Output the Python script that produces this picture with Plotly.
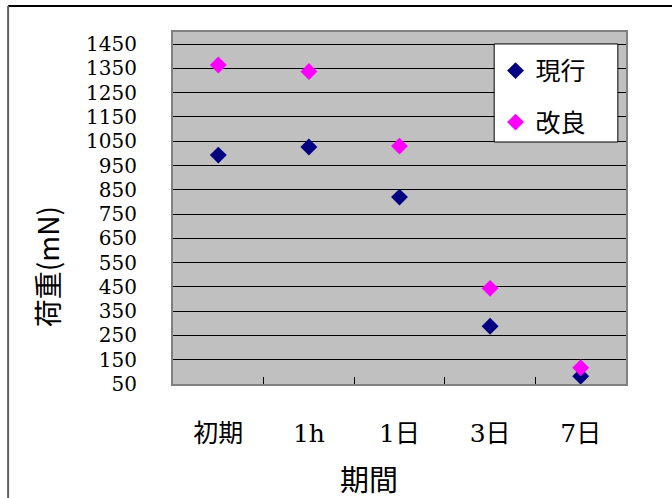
import plotly.graph_objects as go

categories = ["初期", "1h", "1日", "3日", "7日"]
genko = [993, 1026, 820, 288, 82]
kairyo = [1364, 1337, 1030, 444, 117]
yticks = [50, 150, 250, 350, 450, 550, 650, 750, 850, 950, 1050, 1150, 1250, 1350, 1450]

NUMFONT = "DejaVu Serif, Noto Sans CJK JP"
CJK = "Noto Sans CJK JP"

fig = go.Figure()
fig.add_trace(go.Scatter(x=categories, y=genko, mode="markers", name="現行", legendgroup="a",
                         marker=dict(symbol="diamond", size=13, color="#000080")))
fig.add_trace(go.Scatter(x=categories, y=kairyo, mode="markers", name="改良", legendgroup="b",
                         marker=dict(symbol="diamond", size=13, color="#FF00FF")))

fig.update_layout(
    width=672, height=498,
    margin=dict(l=173, r=46, t=32, b=114),
    paper_bgcolor="white", plot_bgcolor="#C0C0C0",
    font=dict(family=NUMFONT, size=20, color="black"),
    showlegend=True,
    legend=dict(x=0.712, y=0.955, xanchor="left", yanchor="top",
                bgcolor="rgba(0,0,0,0)", borderwidth=0,
                font=dict(size=25, family=CJK),
                traceorder="grouped", tracegroupgap=16,
                itemwidth=30),
    xaxis=dict(type="category", range=[-0.5, 4.5], showgrid=False,
               ticks="inside", tickson="boundaries", ticklen=7, tickcolor="black",
               showline=True, linecolor="#808080", linewidth=2, mirror=True,
               ticklabelstandoff=26,
               tickfont=dict(size=25, family=NUMFONT)),
    yaxis=dict(range=[50, 1500], tickvals=yticks, showgrid=True, gridcolor="black", gridwidth=1.3,
               ticks="", showline=True, linecolor="#808080", linewidth=2, mirror=True,
               ticklabelstandoff=30, zeroline=False,
               tickfont=dict(size=20, family=NUMFONT)),
)

# legend box
fig.add_shape(type="rect", xref="paper", yref="paper", x0=0.709, x1=0.982, y0=0.6875, y1=0.966,
              fillcolor="white", line=dict(color="black", width=1), layer="above")

# axis titles (positioned as in the original chart)
fig.add_annotation(text="荷重(mN)", xref="paper", yref="paper", x=-0.278, y=0.332,
                   xanchor="center", yanchor="middle",
                   textangle=-90, showarrow=False, font=dict(size=28, family=CJK))
fig.add_annotation(text="期間", xref="paper", yref="paper", x=0.433, y=-0.267,
                   xanchor="center", yanchor="middle",
                   showarrow=False, font=dict(size=29, family=CJK))

# outer chart frame (top, left, right edges; bottom runs beyond the image)
fig.add_shape(type="line", xref="paper", yref="paper", x0=-0.364, x1=1.107, y0=1.074, y1=1.074,
              line=dict(color="black", width=2))
fig.add_shape(type="line", xref="paper", yref="paper", x0=-0.364, x1=-0.364, y0=1.074, y1=-0.33,
              line=dict(color="#606060", width=2))
fig.add_shape(type="line", xref="paper", yref="paper", x0=1.107, x1=1.107, y0=1.074, y1=-0.33,
              line=dict(color="#909090", width=1.5))

fig.write_html("out.html")
